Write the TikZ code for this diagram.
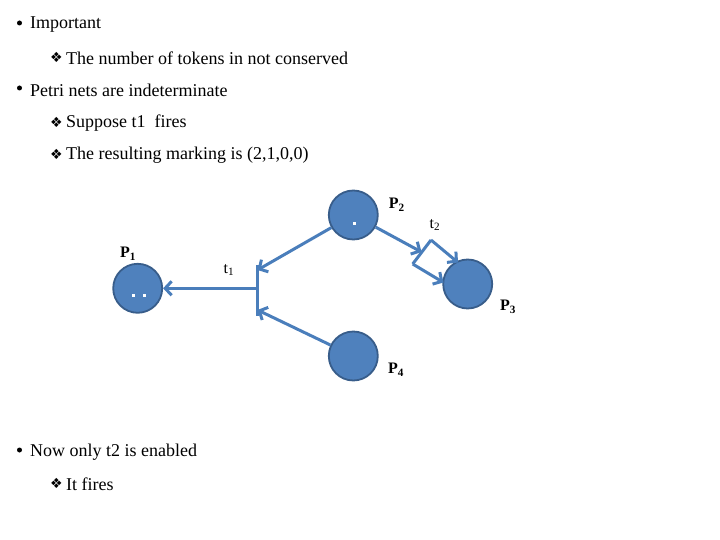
\documentclass[tikz,border=0pt]{standalone}
\usepackage{fontspec}
\setmainfont{Liberation Serif}
\newfontfamily\symfont{DejaVu Sans}
\usetikzlibrary{arrows.meta, positioning}
\definecolor{placefill}{RGB}{79,129,189}
\definecolor{placeedge}{RGB}{56,93,138}
\definecolor{arcblue}{RGB}{74,126,187}
\tikzset{
  place/.style={circle, draw=placeedge, fill=placefill, line width=1.8pt,
                minimum size=49pt, inner sep=0pt},
  token/.style={rectangle, fill=white, minimum size=2.5pt, inner sep=0pt},
  trans/.style={draw=arcblue, line width=3pt},
  flow/.style={-{Straight Barb[length=6.5pt, width=14pt, line width=3pt]},
               draw=arcblue, line width=3pt},
  lbl/.style={font=\fontsize{16}{18}\selectfont\bfseries},
  tlbl/.style={font=\fontsize{16}{18}\selectfont},
  txt/.style={anchor=west, inner sep=0pt, font=\fontsize{18}{21}\selectfont},
  dot/.style={circle, fill=black, minimum size=5pt, inner sep=0pt},
  dia/.style={anchor=west, inner sep=0pt, font=\symfont\fontsize{14}{16}\selectfont},
}

\begin{document}
\begin{tikzpicture}[x=1pt, y=-1pt]

  \useasboundingbox (0,0) rectangle (720,540);

  % text
  \node[dot] (b1) at (19.5,23) {};
  \node[txt] (i1) at (30,25) {Important};
  \node[dia] (d1) at (50,57.5) {❖};
  \node[txt] (i2) at (66,58) {The number of tokens in not conserved};
  \node[dot] (b2) at (19.5,88) {};
  \node[txt] (i3) at (30,90) {Petri nets are indeterminate};
  \node[dia] (d2) at (50,122.5) {❖};
  \node[txt] (i4) at (66,123) {Suppose t1\ \ fires};
  \node[dia] (d3) at (50,154.5) {❖};
  \node[txt] (i5) at (66,155) {The resulting marking is (2,1,0,0)};
  \node[dot] (b3) at (19.5,450) {};
  \node[txt] (i6) at (30,452) {Now only t2 is enabled};
  \node[dia] (d4) at (50,483.5) {❖};
  \node[txt] (i7) at (66,484) {It fires};

  % places
  \node[place] (p1) at (137.7,288.3) {};
  \node[place] (p2) at (353.3,215) {};
  \node[place] (p3) at (467.7,284) {};
  \node[place] (p4) at (353.3,356) {};

  \node[token] (k1) at (133.3,295.7) {};
  \node[token] (k2) at (144.3,295.7) {};
  \node[token] (k3) at (354.3,223.3) {};

  \node[lbl] (l1) at (128,254) {P\textsubscript{1}};
  \node[lbl] (l2) at (396.7,205) {P\textsubscript{2}};
  \node[lbl] (l3) at (508,307) {P\textsubscript{3}};
  \node[lbl] (l4) at (396,370) {P\textsubscript{4}};

  % transitions
  \coordinate (t1top) at (257.5,265);
  \coordinate (t1bot) at (257.5,316);
  \coordinate (t1a) at (257.5,270);
  \coordinate (t1m) at (257.5,288.3);
  \coordinate (t1b) at (257.5,310);
  \draw[trans] (t1top) -- (t1bot);
  \node[tlbl] (lt1) at (229,270) {t\textsubscript{1}};

  \coordinate (t2a) at (412.7,264);
  \coordinate (t2b) at (431,240);
  \coordinate (t2m) at (421.5,252);
  \coordinate (h1) at (458,262.5);
  \coordinate (h2) at (443.5,282.5);
  \draw[trans] (t2a) -- (t2b);
  \node[tlbl] (lt2) at (435,225) {t\textsubscript{2}};

  % arcs
  \draw[flow] (t1m) -- (p1);
  \draw[flow] (p2) -- (t1a);
  \draw[flow] (p4) -- (t1b);
  \draw[flow] (p2) -- (t2m);
  \draw[flow] (t2b) -- (h1);
  \draw[flow] (t2a) -- (h2);

\end{tikzpicture}
\end{document}
